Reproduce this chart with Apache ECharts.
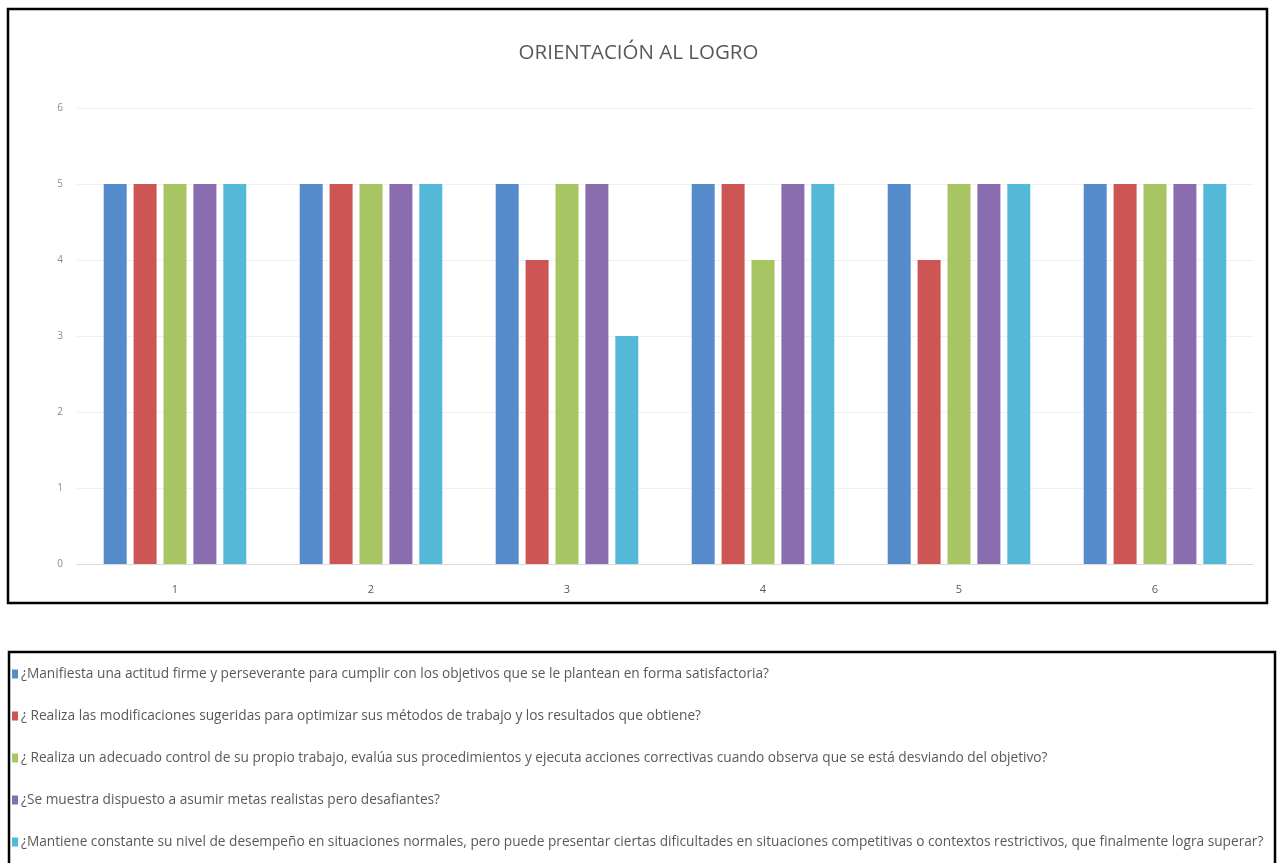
<!DOCTYPE html>
<html>
<head>
<meta charset="utf-8">
<script src="https://cdn.jsdelivr.net/npm/echarts@6/dist/echarts.min.js"></script>
<style>
html,body{margin:0;padding:0;background:#fff;}
#c{width:1277px;height:863px;}
</style>
</head>
<body>
<div id="c"></div>
<script>
var title = 'ORIENTACIÓN AL LOGRO';
var categories = ['1','2','3','4','5','6'];
var seriesNames = [
  '¿Manifiesta una actitud firme y perseverante para cumplir con los objetivos que se le plantean en forma satisfactoria?',
  '¿ Realiza las modificaciones sugeridas para optimizar sus métodos de trabajo y los resultados que obtiene?',
  '¿ Realiza un adecuado control de su propio trabajo, evalúa sus procedimientos y ejecuta acciones correctivas cuando observa que se está desviando del objetivo?',
  '¿Se muestra dispuesto a asumir metas realistas pero desafiantes?',
  '¿Mantiene constante su nivel de desempeño en situaciones normales, pero puede presentar ciertas dificultades en situaciones competitivas o contextos restrictivos, que finalmente logra superar?'
];
var s1 = [5,5,5,5,5,5];
var s2 = [5,5,4,5,4,5];
var s3 = [5,5,5,4,5,5];
var s4 = [5,5,5,5,5,5];
var s5 = [5,5,3,5,5,5];
var colors = ['#558BCB','#CD5654','#A7C663','#8A6DAE','#54B8D7'];
var yTicks = {min:0, max:6, interval:1};

var values = [s1,s2,s3,s4,s5];
var chart = echarts.init(document.getElementById('c'), null, {renderer:'canvas'});
var font = '"Open Sans", sans-serif';
chart.setOption({
  animation:false,
  color: colors,
  title:{text:title, left:'center', top:38, textStyle:{fontFamily:font, fontSize:20.5, fontWeight:'normal', color:'#595959'}},
  grid:{left:77, right:24, top:108, bottom:299, containLabel:false},
  xAxis:{type:'category', data:categories,
    axisLine:{lineStyle:{color:'#D9D9D9'}}, axisTick:{show:false},
    axisLabel:{fontFamily:font, fontSize:11, color:'#595959', margin:20}},
  yAxis:{type:'value', min:yTicks.min, max:yTicks.max, interval:yTicks.interval,
    axisLine:{show:false}, axisTick:{show:false},
    splitLine:{lineStyle:{color:'#F0F0F0'}},
    axisLabel:{fontFamily:font, fontSize:10, color:'#8C8C8C', margin:14}},
  legend:{orient:'vertical', left:7, top:662, itemWidth:6, itemHeight:9, itemGap:28, icon:'rect',
    textStyle:{fontFamily:font, fontSize:13.7, color:'#595959', padding:[0,0,0,-2]},
    data:seriesNames},
  graphic:[
    {type:'rect', shape:{x:8, y:9, width:1259, height:594}, style:{fill:'none', stroke:'#000', lineWidth:2.5}, silent:true},
    {type:'rect', shape:{x:9, y:652, width:1266, height:220}, style:{fill:'none', stroke:'#000', lineWidth:2.5}, silent:true}
  ],
  series: values.map(function(v,i){
    return {name:seriesNames[i], type:'bar', data:v, barWidth:23, barGap:'30%'};
  })
});
</script>
</body>
</html>
